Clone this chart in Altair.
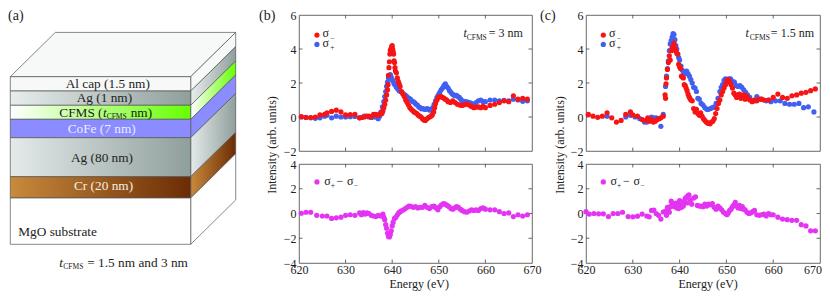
import altair as alt
import pandas as pd

# ---------- panel (b), sigma- ----------
b_minus_e = [620.5,621.5,622.5,623.5,624.5,625.5,626.0,627.0,628.0,629.0,630.0,631.0,632.0,633.0,633.5,634.0,634.5,635.0,635.5,636.0,636.5,637.0,637.4,637.8,638.0,638.2,638.4,638.6,638.8,639.0,639.1,639.2,639.3,639.4,639.5,639.6,639.7,639.8,639.9,640.0,640.1,640.2,640.3,640.4,640.5,640.6,640.7,640.9,641.1,641.3,641.5,641.7,642.0,642.3,642.6,642.9,643.2,643.5,643.8,644.1,644.4,644.7,645.0,645.3,645.6,645.9,646.2,646.5,646.8,647.1,647.4,647.7,648.0,648.3,648.6,648.9,649.1,649.3,649.6,649.9,650.2,650.5,650.8,651.1,651.4,651.7,652.0,652.5,653.0,653.5,654.0,654.5,655.0,655.5,656.0,656.5,657.0,657.5,658.0,658.5,659.0,659.5,660.0,661.0,662.0,663.0,664.0,665.0,666.0,667.0,668.0,669.0]
b_minus_i = [0.02,-0.03,-0.03,0.0,0.12,0.15,0.25,0.33,0.4,0.3,0.12,0.14,0.15,-0.05,-0.03,0.0,0.05,0.05,0.0,0.15,0.15,0.1,0.2,0.2,0.35,0.55,0.75,1.0,1.3,1.6,1.9,2.45,2.9,3.25,3.7,3.9,4.0,3.85,4.15,4.2,4.0,3.85,3.7,3.3,3.2,2.9,2.7,2.6,2.3,2.1,1.95,1.8,1.5,1.35,1.2,1.0,0.85,0.7,0.55,0.45,0.38,0.3,0.25,0.2,0.1,0.05,0.0,-0.1,-0.18,-0.2,-0.12,-0.05,0.0,0.05,0.12,0.3,0.55,0.8,1.0,1.15,1.2,1.2,1.15,1.1,1.05,1.0,0.9,0.85,0.95,0.85,0.75,0.7,0.68,0.72,0.78,0.7,0.62,0.55,0.58,0.6,0.55,0.62,0.55,0.68,0.75,0.85,0.95,0.9,1.25,1.05,1.1,1.05]

# ---------- panel (b), sigma+ ----------
b_plus_e = [620.5,621.5,622.5,623.5,624.5,625.5,626.0,627.0,628.0,629.0,630.0,631.0,632.0,633.0,634.0,635.0,635.5,636.0,636.5,637.0,637.3,637.6,637.9,638.2,638.4,638.6,638.8,639.0,639.2,639.4,639.6,639.8,640.0,640.2,640.4,640.6,640.9,641.2,641.5,641.8,642.1,642.4,642.7,643.0,643.3,643.6,643.9,644.2,644.5,644.8,645.1,645.4,645.7,646.0,646.3,646.6,646.9,647.2,647.5,647.8,648.1,648.4,648.7,649.0,649.3,649.6,649.9,650.2,650.5,650.8,651.1,651.4,651.7,652.0,652.3,652.6,652.9,653.2,653.5,653.8,654.1,654.4,654.7,655.0,655.4,655.8,656.2,656.6,657.0,657.5,658.0,658.5,659.0,659.5,660.0,661.0,662.0,663.0,664.0,665.0,666.0,667.0,668.0,669.0]
b_plus_i = [0.0,-0.02,-0.05,-0.08,-0.05,0.05,0.1,-0.05,0.05,0.0,0.0,0.02,0.03,-0.05,0.05,0.0,-0.03,0.0,0.0,-0.1,0.05,0.3,0.6,0.9,1.2,1.5,1.8,2.05,2.3,2.45,2.5,2.35,2.2,2.1,1.95,1.9,1.75,1.65,1.55,1.5,1.45,1.35,1.3,1.25,1.15,1.1,1.05,0.95,0.9,0.85,0.75,0.7,0.6,0.55,0.48,0.5,0.45,0.45,0.5,0.45,0.4,0.45,0.55,0.75,0.95,1.15,1.3,1.45,1.6,1.7,1.85,1.95,1.8,1.7,1.55,1.45,1.35,1.3,1.25,1.28,1.2,1.15,1.05,0.95,0.92,0.9,0.88,0.85,0.8,0.75,0.85,0.95,1.0,0.9,0.9,1.0,1.0,0.95,0.98,0.95,1.05,1.0,0.92,0.95]

# ---------- panel (b), difference ----------
b_diff_e = [620.5,621.5,622.5,623.8,625.0,626.0,627.0,628.0,629.0,630.0,631.0,632.0,633.0,633.4,633.8,634.2,634.6,635.0,635.5,636.0,636.5,637.0,637.5,638.0,638.2,638.4,638.6,638.8,639.0,639.2,639.4,639.6,639.8,640.0,640.2,640.5,640.8,641.1,641.4,641.7,642.0,642.4,642.8,643.2,643.6,644.0,644.5,645.0,645.5,646.0,646.5,647.0,647.5,648.0,648.5,649.0,649.4,649.8,650.2,650.6,651.0,651.4,651.8,652.2,652.6,653.0,653.4,653.8,654.2,654.6,655.0,655.5,656.0,656.5,657.0,657.5,658.0,658.5,659.0,659.5,660.0,661.0,662.0,663.0,664.0,665.0,666.0,667.0,668.0,669.0]
b_diff_i = [0.02,0.1,0.1,-0.15,-0.2,-0.2,-0.4,-0.35,-0.3,-0.15,-0.1,-0.15,0.05,-0.1,0.08,-0.05,0.05,0.0,-0.15,-0.2,-0.25,-0.15,-0.2,-0.05,-0.3,-0.5,-0.9,-1.2,-1.6,-1.85,-1.9,-1.7,-1.4,-1.0,-0.7,-0.4,-0.3,-0.1,0.05,0.15,0.22,0.3,0.4,0.5,0.6,0.58,0.5,0.55,0.45,0.5,0.5,0.65,0.5,0.4,0.55,0.6,0.45,0.3,0.55,0.7,0.8,0.75,0.65,0.55,0.4,0.35,0.45,0.55,0.5,0.35,0.25,0.15,0.1,0.2,0.3,0.25,0.3,0.25,0.4,0.45,0.35,0.3,0.3,0.15,0.0,0.05,-0.25,-0.1,-0.2,-0.1]

# ---------- panel (c), sigma- ----------
c_minus_e = [620.5,621.5,622.5,623.5,624.5,625.5,626.5,627.5,628.5,629.5,630.0,631.0,632.0,632.8,633.2,633.6,634.0,634.4,634.8,635.2,635.6,636.0,636.5,636.9,637.0,637.1,637.2,637.4,637.6,637.8,638.0,638.2,638.4,638.6,638.8,639.0,639.2,639.4,639.6,639.8,640.0,640.2,640.4,640.6,640.8,641.0,641.2,641.4,641.6,641.8,642.0,642.2,642.4,642.7,643.0,643.3,643.6,643.9,644.2,644.5,644.8,645.1,645.4,645.7,646.0,646.2,646.5,646.8,647.1,647.4,647.7,648.0,648.3,648.6,648.9,649.2,649.5,649.8,650.1,650.4,650.7,651.0,651.3,651.6,651.9,652.2,652.5,652.8,653.1,653.4,653.7,654.0,654.3,654.6,655.0,655.5,656.0,656.5,657.0,657.5,658.0,659.0,660.0,661.0,662.0,663.0,664.0,665.0,666.0,667.0,668.0,669.0]
c_minus_i = [0.15,0.05,-0.02,0.05,0.25,-0.05,-0.3,-0.2,0.15,0.3,0.12,0.05,-0.15,-0.2,-0.05,-0.25,-0.15,-0.3,-0.25,-0.15,-0.1,-0.05,0.05,1.3,1.1,1.95,2.3,2.8,3.2,3.6,3.35,3.9,4.1,3.95,4.35,4.1,3.9,3.75,3.7,3.1,2.95,2.85,2.4,2.35,2.3,1.9,1.85,1.7,1.55,1.35,1.2,1.1,1.0,0.95,0.5,0.3,0.45,0.2,0.1,0.25,0.05,-0.1,-0.2,-0.3,-0.35,-0.38,-0.4,-0.3,-0.25,-0.1,0.2,0.5,0.8,1.0,1.3,1.5,1.7,1.9,2.15,2.2,2.05,1.9,1.7,1.4,1.3,1.15,1.3,1.35,1.1,1.2,1.3,1.05,1.25,1.1,1.0,0.9,1.0,0.95,1.05,1.05,1.0,1.0,1.15,1.35,1.15,1.1,1.25,1.3,1.4,1.45,1.55,1.65]

# ---------- panel (c), sigma+ ----------
c_plus_e = [624.5,628.5,629.5,630.5,631.5,632.5,633.0,633.5,634.0,634.5,635.0,635.5,636.0,636.5,637.0,637.2,637.4,637.6,637.8,638.0,638.2,638.4,638.6,638.8,639.0,639.2,639.4,639.6,639.8,640.0,640.3,640.6,640.9,641.2,641.5,641.8,642.1,642.4,642.7,643.0,643.3,643.6,643.9,644.2,644.6,645.0,645.4,645.8,646.2,646.6,647.0,647.4,647.8,648.2,648.6,648.9,649.2,649.5,649.8,650.1,650.5,650.9,651.3,651.7,652.1,652.5,652.9,653.3,653.7,654.1,654.5,655.0,655.5,656.0,656.5,657.5,658.5,659.0,659.5,660.5,661.5,662.5,663.5,664.5,665.5,666.5,667.5,668.7]
c_plus_i = [0.05,0.0,0.1,0.0,-0.1,-0.3,-0.3,-0.1,0.0,-0.05,-0.05,-0.1,-0.55,0.15,1.8,2.4,2.85,3.3,3.9,4.3,4.5,4.7,4.9,4.85,4.55,4.2,4.0,3.7,3.5,3.35,3.0,2.75,2.6,2.55,2.7,2.55,2.4,2.2,2.0,1.75,1.7,1.5,1.1,1.05,0.8,0.7,0.55,0.45,0.45,0.5,0.55,0.6,0.8,1.1,1.5,1.75,1.9,2.15,2.25,2.2,2.25,2.25,2.1,2.05,1.85,1.8,1.85,1.75,1.6,1.45,1.3,1.15,0.95,0.95,1.2,1.05,0.95,1.0,0.9,0.95,0.95,0.8,0.75,0.75,0.8,0.55,0.6,0.3]

# ---------- panel (c), difference ----------
c_diff_e = [620.0,620.7,621.7,622.7,623.7,624.8,625.8,626.8,627.8,629.0,630.0,631.0,632.0,633.0,633.5,634.0,634.5,635.0,635.5,636.0,636.5,637.0,637.2,637.4,637.6,637.8,638.0,638.2,638.4,638.6,638.8,639.0,639.2,639.4,639.6,639.8,640.0,640.2,640.4,640.6,640.8,641.0,641.2,641.4,641.6,641.8,642.0,642.3,642.6,643.0,643.4,643.8,644.2,644.6,645.0,645.4,645.8,646.2,646.6,647.0,647.4,647.8,648.2,648.6,649.0,649.4,649.8,650.1,650.4,650.7,651.0,651.3,651.6,651.9,652.2,652.5,652.8,653.1,653.4,653.7,654.0,654.4,654.8,655.2,655.6,656.0,656.5,657.0,657.5,658.0,658.5,659.0,659.5,660.0,661.0,662.0,663.0,664.0,665.0,666.0,667.0,668.0,669.0]
c_diff_i = [0.15,-0.05,0.0,-0.03,-0.03,-0.25,0.0,0.0,0.1,-0.25,-0.27,-0.22,-0.05,-0.2,-0.27,0.25,0.28,0.0,-0.15,-0.45,0.12,0.2,-0.15,0.5,0.35,0.1,0.55,1.0,0.8,0.6,0.75,0.55,0.85,0.45,0.7,0.4,1.05,0.75,0.5,0.95,0.6,0.9,1.2,1.3,0.85,1.45,1.5,1.1,0.75,1.25,1.35,0.65,0.6,0.6,0.55,0.75,0.6,0.75,0.7,0.8,0.5,0.35,0.6,0.45,0.3,0.1,0.0,-0.1,0.05,0.25,0.35,0.55,0.7,0.9,0.6,0.45,0.65,0.4,0.55,0.35,0.3,0.1,0.0,0.05,0.15,0.25,-0.1,-0.15,-0.1,-0.05,-0.2,0.0,-0.1,-0.1,-0.3,-0.45,-0.5,-0.55,-0.55,-0.9,-1.0,-1.4,-1.4]
c_diff_e = c_diff_e[:len(c_diff_i)]

# ---------- axes ----------
x_ticks = [620, 630, 640, 650, 660, 670]
top_ticks = [-2, 0, 2, 4, 6]
bottom_ticks = [-4, -2, 0, 2, 4]

# ---------- layer stack ----------
layer_names = ["Al cap", "Ag thin", "CFMS", "CoFe", "Ag thick", "Cr", "MgO"]
layer_top = [76.7, 91.0, 105.3, 119.3, 137.7, 176.7, 198.0]
layer_bottom = [91.0, 105.3, 119.3, 137.7, 176.7, 198.0, 244.3]
layer_left_colour = ["#f7f8f8", "#e8eded", "#ffffff", "#8a8cff", "#e4eaea", "#c88a3c", "#ffffff"]
layer_right_colour = ["#f7f8f8", "#8f9f9c", "#66ff00", "#8a8cff", "#8f9f9c", "#6b2c05", "#ffffff"]
front_left, front_right = 10.3, 190.7
depth_x, depth_y = 45.0, 44.3

RED, BLUE, MAGENTA = "#f61414", "#4160f2", "#e433f2"
INK, EDGE = "#222222", "#555555"
SERIF = "Liberation Serif"
W_A, W_B, W_C, H_TOP, H_BOT = 237, 233, 234, 136, 99
FULL_H = H_TOP + 13 + H_BOT


def grad(a, b):
    return alt.Gradient(gradient="linear", x1=0, x2=1, y1=0, y2=0,
                        stops=[alt.GradientStop(offset=0, color=a), alt.GradientStop(offset=1, color=b)])


# ---------- schematic ----------
sx = alt.Scale(domain=[8, 8 + W_A], nice=False, zero=False)
sy = alt.Scale(domain=[15, 15 + FULL_H], range=[0, FULL_H], nice=False, zero=False)
ax = alt.X("x:Q", scale=sx, axis=None)
ay = alt.Y("y:Q", scale=sy, axis=None)


def txt(rows, **mark):
    style = dict(font=SERIF, align="left", baseline="alphabetic", color=INK, fontSize=13.3)
    style.update(mark)
    return alt.Chart(pd.DataFrame(rows, columns=["x", "y", "t"])).mark_text(**style).encode(
        x=ax, y=ay, text="t:N")


parts = []
t0 = layer_top[0]
parts.append(
    alt.Chart(pd.DataFrame({"y": [t0 - depth_y, t0], "x": [front_left + depth_x, front_left],
                            "x2": [front_right + depth_x, front_right]}))
    .mark_area(orient="horizontal", color="#f7f9f8", stroke=EDGE, strokeWidth=0.7)
    .encode(y=ay, x=ax, x2="x2:Q")
)
for i in range(len(layer_names)):
    a, b = layer_left_colour[i], layer_right_colour[i]
    parts.append(
        alt.Chart(pd.DataFrame({"x": [front_right, front_right + depth_x],
                                "y": [layer_top[i], layer_top[i] - depth_y],
                                "y2": [layer_bottom[i], layer_bottom[i] - depth_y]}))
        .mark_area(color=grad(a, b), stroke=EDGE, strokeWidth=0.7)
        .encode(x=ax, y=ay, y2="y2:Q")
    )
    parts.append(
        alt.Chart(pd.DataFrame({"x": [front_left], "x2": [front_right],
                                "y": [layer_top[i]], "y2": [layer_bottom[i]]}))
        .mark_rect(color=grad(a, b), stroke=EDGE, strokeWidth=0.7)
        .encode(x=ax, x2="x2:Q", y=ay, y2="y2:Q")
    )

parts.append(txt([[65.7, 87.7, "Al cap (1.5 nm)"], [76.7, 101.7, "Ag (1 nm)"], [59.3, 116.7, "CFMS ("],
                  [130.7, 116.7, "nm)"], [71, 162.3, "Ag (80 nm)"], [18.3, 236, "MgO substrate"],
                  [87.3, 266.7, "= 1.5 nm and 3 nm"]]))
parts.append(txt([[103, 116.7, "t"], [59.3, 266.7, "t"]], fontStyle="italic"))
parts.append(txt([[106.7, 118.5, "CFMS"], [63.3, 268.5, "CFMS"]], fontSize=7.5))
parts.append(txt([[67.7, 132.7, "CoFe (7 nm)"]], color="#eeeeff"))
parts.append(txt([[74, 190, "Cr (20 nm)"]], color="#f6eee2"))
parts.append(txt([[8, 20, "(a)"]], fontSize=14))
panel_a = alt.layer(*parts).properties(width=W_A, height=H_TOP)

# blank cell under the schematic's grid slot
blank = alt.Chart(pd.DataFrame({"x": [10], "y": [20]})).mark_point(opacity=0).encode(x=ax, y=ay).properties(
    width=W_A, height=H_BOT)

# ---------- spectra ----------
xs = alt.Scale(domain=[620, 670], nice=False, zero=False)


def panel(width, height, ydomain, yticks, series, show_x, labels, pixel_labels, e_title=None, edge_label=False):
    ys = alt.Scale(domain=ydomain, nice=False, zero=False)
    shown = x_ticks[:-1] if edge_label else x_ticks
    x_axis = alt.Axis(values=shown, ticks=False, domain=False, grid=False, labels=show_x, labelFont=SERIF,
                      labelFontSize=12, labelColor=INK, labelPadding=1.5, format="d", labelOverlap=False,
                      labelFlush=False, title=None)
    y_axis = alt.Axis(values=yticks, ticks=False, domain=False, grid=False, labelFont=SERIF, labelFontSize=12,
                      labelColor=INK, labelPadding=3, format="d", labelOverlap=False, labelFlush=False, title=None)
    px = alt.X("e:Q", scale=xs, axis=x_axis)
    py = alt.Y("v:Q", scale=ys, axis=y_axis)
    layers = []
    # inward ticks on all four sides
    xdf = pd.DataFrame({"e": x_ticks[1:-1]})
    ydf = pd.DataFrame({"v": yticks[1:-1]})
    tick = dict(color="#444444", strokeWidth=0.8)
    layers.append(alt.Chart(xdf).mark_rule(**tick).encode(x=px, y=alt.value(0), y2=alt.value(3.5)))
    layers.append(alt.Chart(xdf).mark_rule(**tick).encode(x=px, y=alt.value(height), y2=alt.value(height - 3.5)))
    layers.append(alt.Chart(ydf).mark_rule(**tick).encode(y=py, x=alt.value(0), x2=alt.value(3.5)))
    layers.append(alt.Chart(ydf).mark_rule(**tick).encode(y=py, x=alt.value(width), x2=alt.value(width - 3.5)))
    for e, v, colour in series:
        layers.append(
            alt.Chart(pd.DataFrame({"e": e, "v": v}))
            .mark_circle(color=colour, size=27, opacity=1)
            .encode(x=px, y=py)
        )
    for rows, style in labels:
        st = dict(font=SERIF, align="left", baseline="alphabetic", color=INK, fontSize=12)
        st.update(style)
        layers.append(
            alt.Chart(pd.DataFrame(rows, columns=["e", "v", "t"])).mark_text(**st).encode(x=px, y=py, text="t:N")
        )
    for x, y, t, style in pixel_labels:
        st = dict(font=SERIF, align="center", baseline="middle", color=INK, fontSize=12)
        st.update(style)
        layers.append(
            alt.Chart(pd.DataFrame({"t": [t]})).mark_text(**st).encode(x=alt.value(x), y=alt.value(y), text="t:N")
        )
    if edge_label:
        layers.append(
            alt.Chart(pd.DataFrame({"e": [x_ticks[-1]], "t": [str(x_ticks[-1])]}))
            .mark_text(font=SERIF, align="right", baseline="top", color=INK, fontSize=12, dx=2)
            .encode(x=px, y=alt.value(height + 1.5), text="t:N")
        )
    if e_title is not None:
        layers.append(
            alt.Chart(pd.DataFrame({"e": [e_title], "t": ["Energy (eV)"]}))
            .mark_text(font=SERIF, align="center", baseline="alphabetic", color=INK, fontSize=12)
            .encode(x=px, y=alt.value(height + 24.5), text="t:N")
        )
    return alt.layer(*layers).properties(
        width=width, height=height, view=alt.ViewBackground(stroke="#444444", strokeWidth=0.8))


def column(width, minus, plus, diff, e_sig, e_sub, e_leg, note, panel_tag, tag_x, e_title, ytitle_x, edge_label):
    top = panel(
        width, H_TOP, [-2, 6], top_ticks,
        [(plus[0], plus[1], BLUE), (minus[0], minus[1], RED),
         ([e_leg], [4.27], BLUE), ([e_leg], [4.82], RED)],
        False,
        [([[e_sig, 4.69, "σ"], [e_sig, 4.14, "σ"]] + note[0], {}),
         ([[e_sub, 4.47, "−"], [e_sub, 3.92, "+"]] + note[1], {"fontSize": 7.5}),
         (note[2], {"fontStyle": "italic"})],
        [[ytitle_x, 130, "Intensity (arb. units)", {"angle": 270}],
         [tag_x, 5, panel_tag, {"align": "left", "baseline": "alphabetic", "fontSize": 14}]],
    )
    bot = panel(
        width, H_BOT, [-4, 4], bottom_ticks,
        [(diff[0], diff[1], MAGENTA), ([e_leg], [2.55], MAGENTA)],
        True,
        [([[e_sig + 0.35, 2.33, "σ"], [e_sig + 3.0, 2.33, "−"], [e_sig + 5.25, 2.33, "σ"]], {}),
         ([[e_sig + 1.75, 2.1, "+"], [e_sig + 6.7, 2.1, "−"]], {"fontSize": 7.5})],
        [], e_title, edge_label,
    )
    return top, bot


top_b, bot_b = column(
    W_B, (b_minus_e, b_minus_i), (b_plus_e, b_plus_i), (b_diff_e, b_diff_i),
    625.05, 626.7, 623.85,
    ([[660.7, 4.69, "= 3 nm"]], [[656.0, 4.55, "CFMS"]], [[655.3, 4.69, "t"]]),
    "(b)", -40, 645.8, -27, False,
)
top_c, bot_c = column(
    W_C, (c_minus_e, c_minus_i), (c_plus_e, c_plus_i), (c_diff_e, c_diff_i),
    624.9, 626.55, 623.7,
    ([[659.5, 4.69, "= 1.5 nm"]], [[655.0, 4.55, "CFMS"]], [[654.1, 4.69, "t"]]),
    "(c)", -46, 646.1, -26, True,
)

chart = alt.concat(panel_a, top_b, top_c, blank, bot_b, bot_c, columns=3,
                   spacing=alt.RowColnumber(row=13, column=54), bounds="flush").properties(
    autosize=alt.AutoSizeParams(type="none"),
    padding=alt.Padding(left=0, top=7, right=814, bottom=276),
).configure_view(stroke="transparent")

chart.save("out.html", embed_options={"renderer": "svg", "actions": False})
